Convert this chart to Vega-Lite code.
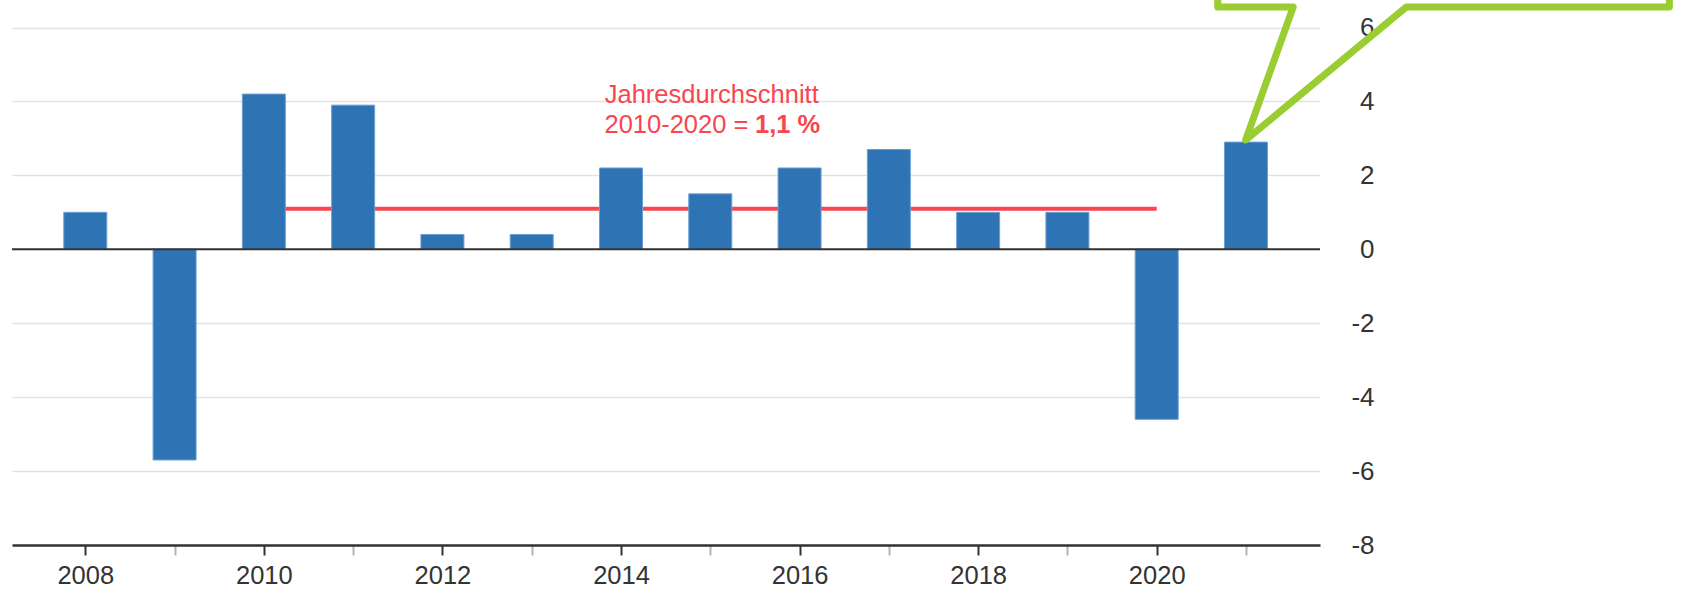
{
  "$schema": "https://vega.github.io/schema/vega-lite/v6.json",
  "width": 1308,
  "height": 545,
  "autosize": {"type": "none"},
  "padding": {"left": 12, "top": 0, "right": 368, "bottom": 44},
  "background": "white",
  "config": {"view": {"stroke": null}, "font": "Liberation Sans"},
  "datasets": {
    "gdp": [
      {"year": 2008, "growth": 1.0},
      {"year": 2009, "growth": -5.7},
      {"year": 2010, "growth": 4.2},
      {"year": 2011, "growth": 3.9},
      {"year": 2012, "growth": 0.4},
      {"year": 2013, "growth": 0.4},
      {"year": 2014, "growth": 2.2},
      {"year": 2015, "growth": 1.5},
      {"year": 2016, "growth": 2.2},
      {"year": 2017, "growth": 2.7},
      {"year": 2018, "growth": 1.0},
      {"year": 2019, "growth": 1.0},
      {"year": 2020, "growth": -4.6},
      {"year": 2021, "growth": 2.9}
    ],
    "avg": [{"start": 2010, "end": 2020, "value": 1.1}],
    "zero": [{"value": 0}],
    "label1": [{"x": 2015.016, "y": 3.97, "text": "Jahresdurchschnitt"}],
    "label2": [{"x": 2015.427, "y": 3.155, "text": "2010-2020 ="}],
    "label3": [{"x": 2015.501, "y": 3.155, "text": "1,1 %"}],
    "callout": [
      {"order": 1, "x": 2020.684, "y": 6.95},
      {"order": 2, "x": 2020.684, "y": 6.556},
      {"order": 3, "x": 2021.529, "y": 6.556},
      {"order": 4, "x": 2020.996, "y": 2.957},
      {"order": 5, "x": 2022.796, "y": 6.556},
      {"order": 6, "x": 2025.742, "y": 6.556},
      {"order": 7, "x": 2025.742, "y": 6.95}
    ]
  },
  "layer": [
    {
      "data": {"name": "gdp"},
      "mark": {"type": "bar", "width": 43, "color": "#2e74b5", "opacity": 0},
      "encoding": {
        "x": {
          "field": "year", "type": "quantitative",
          "scale": {"domain": [2007.235, 2021.773], "nice": false, "zero": false},
          "axis": {
            "title": null,
            "values": [2008, 2009, 2010, 2011, 2012, 2013, 2014, 2015, 2016, 2017, 2018, 2019, 2020, 2021],
            "format": "d",
            "labelExpr": "datum.value % 2 === 0 ? datum.label : ''",
            "grid": false,
            "domainColor": "#333333",
            "domainWidth": 2.5,
            "tickSize": 10,
            "tickWidth": 2,
            "tickColor": {"condition": {"test": "datum.value % 2 === 0", "value": "#333333"}, "value": "#b4b4b4"},
            "labelFontSize": 25.5,
            "labelColor": "#333333",
            "labelPadding": 8,
            "labelFont": "Liberation Sans"
          }
        },
        "y": {
          "field": "growth", "type": "quantitative",
          "scale": {"domain": [-8, 6.745], "nice": false, "zero": false},
          "axis": {
            "title": null,
            "orient": "right",
            "values": [-8, -6, -4, -2, 0, 2, 4, 6],
            "labelExpr": "toString(datum.value)",
            "grid": true,
            "gridColor": "#e2e2e2",
            "gridWidth": 1.3,
            "domain": false,
            "ticks": false,
            "labelAlign": "right",
            "labelPadding": 54,
            "labelFontSize": 26,
            "labelColor": "#333333",
            "labelFont": "Liberation Sans"
          }
        }
      }
    },
    {
      "data": {"name": "avg"},
      "mark": {"type": "rule", "color": "#f7464f", "strokeWidth": 4},
      "encoding": {
        "x": {"field": "start", "type": "quantitative"},
        "x2": {"field": "end"},
        "y": {"field": "value", "type": "quantitative"}
      }
    },
    {
      "data": {"name": "gdp"},
      "mark": {"type": "bar", "width": 43, "color": "#2e74b5", "stroke": "#6a9fd6", "strokeWidth": 1},
      "encoding": {
        "x": {"field": "year", "type": "quantitative"},
        "y": {"field": "growth", "type": "quantitative"}
      }
    },
    {
      "data": {"name": "zero"},
      "mark": {"type": "rule", "color": "#333333", "strokeWidth": 2},
      "encoding": {
        "y": {"field": "value", "type": "quantitative"}
      }
    },
    {
      "data": {"name": "label1"},
      "mark": {"type": "text", "align": "center", "baseline": "alphabetic", "fontSize": 25.5, "color": "#f7464f", "font": "Liberation Sans"},
      "encoding": {
        "x": {"field": "x", "type": "quantitative"},
        "y": {"field": "y", "type": "quantitative"},
        "text": {"field": "text"}
      }
    },
    {
      "data": {"name": "label2"},
      "mark": {"type": "text", "align": "right", "baseline": "alphabetic", "fontSize": 25.5, "color": "#f7464f", "font": "Liberation Sans"},
      "encoding": {
        "x": {"field": "x", "type": "quantitative"},
        "y": {"field": "y", "type": "quantitative"},
        "text": {"field": "text"}
      }
    },
    {
      "data": {"name": "label3"},
      "mark": {"type": "text", "align": "left", "baseline": "alphabetic", "fontSize": 25.5, "fontWeight": "bold", "color": "#f7464f", "font": "Liberation Sans"},
      "encoding": {
        "x": {"field": "x", "type": "quantitative"},
        "y": {"field": "y", "type": "quantitative"},
        "text": {"field": "text"}
      }
    },
    {
      "data": {"name": "callout"},
      "mark": {"type": "line", "color": "#9acd32", "strokeWidth": 7, "strokeJoin": "round", "strokeCap": "round"},
      "encoding": {
        "x": {"field": "x", "type": "quantitative"},
        "y": {"field": "y", "type": "quantitative"},
        "order": {"field": "order", "type": "quantitative"}
      }
    }
  ]
}
